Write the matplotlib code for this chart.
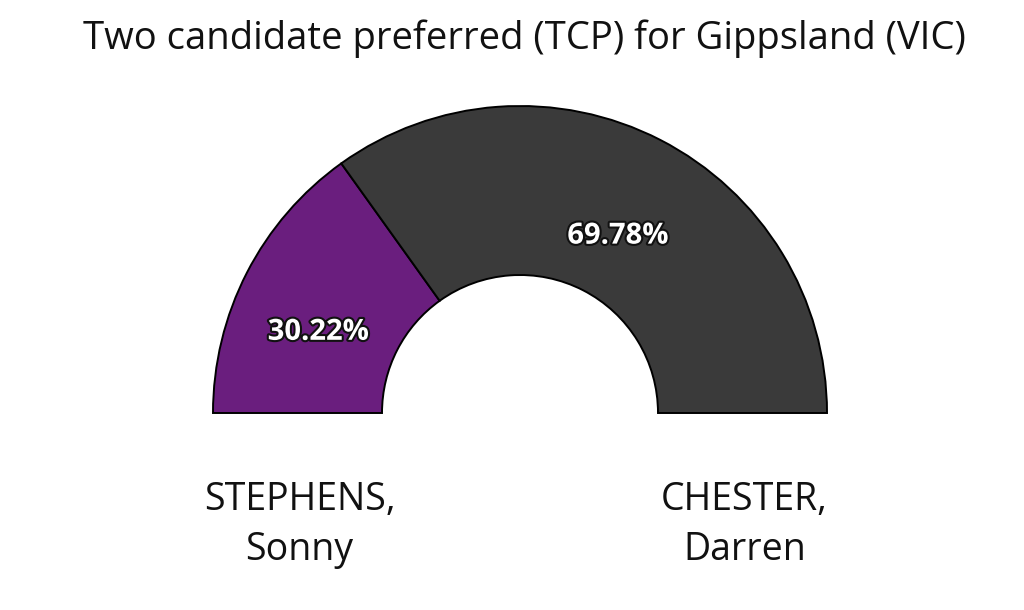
import matplotlib
matplotlib.use("Agg")
from matplotlib import pyplot
from matplotlib import patheffects

TITLE = "Two candidate preferred (TCP) for Gippsland (VIC)"
candidates = ["STEPHENS,\nSonny", "CHESTER,\nDarren"]
shares = [30.22, 69.78]
colors = ["#6a1e7e", "#3a3a3a"]

FONT = ["Open Sans", "DejaVu Sans"]

fig = pyplot.figure(figsize=(10.24, 6.10), dpi=100)
ax = fig.add_axes([0, 0, 1, 1])

cx, cy = 520, 610 - 413
r_out, r_in = 307, 138

# hidden bottom half makes the pie a semicircle
wedges, texts, autotexts = ax.pie(
    shares + [sum(shares)],
    colors=colors + ["none"],
    startangle=180,
    counterclock=False,
    center=(cx, cy),
    radius=r_out,
    autopct=lambda p: "",
    pctdistance=(r_out + r_in) / 2 / r_out,
    wedgeprops=dict(width=r_out - r_in, edgecolor="black", linewidth=1.4),
    frame=True,
)
wedges[-1].set_edgecolor("none")
ax.axis("off")
ax.set_xlim(0, 1024)
ax.set_ylim(0, 610)

for t, v in zip(autotexts[:2], shares):
    x, y = t.get_position()
    t.set_text(f"{v:.2f}%")
    t.set_position((x - 4, y - 21))
    t.set_color("white")
    t.set_fontsize(21)
    t.set_fontweight("bold")
    t.set_family(FONT)
    t.set_path_effects([patheffects.withStroke(linewidth=3, foreground="#111111")])

# candidate names under the band centres
band_mid = (r_out + r_in) / 2
for name, x in zip(candidates, [cx - band_mid, cx + band_mid]):
    ax.text(x + 2, 610 - 525, name, ha="center", va="center", fontsize=27,
            family=FONT, color="#111111", linespacing=1.4)

fig.text(0.512, 1 - 39 / 610, TITLE, ha="center", va="center", fontsize=27.5,
         family=FONT, color="#111111")

fig.savefig("out.png", dpi=100, facecolor="white")
